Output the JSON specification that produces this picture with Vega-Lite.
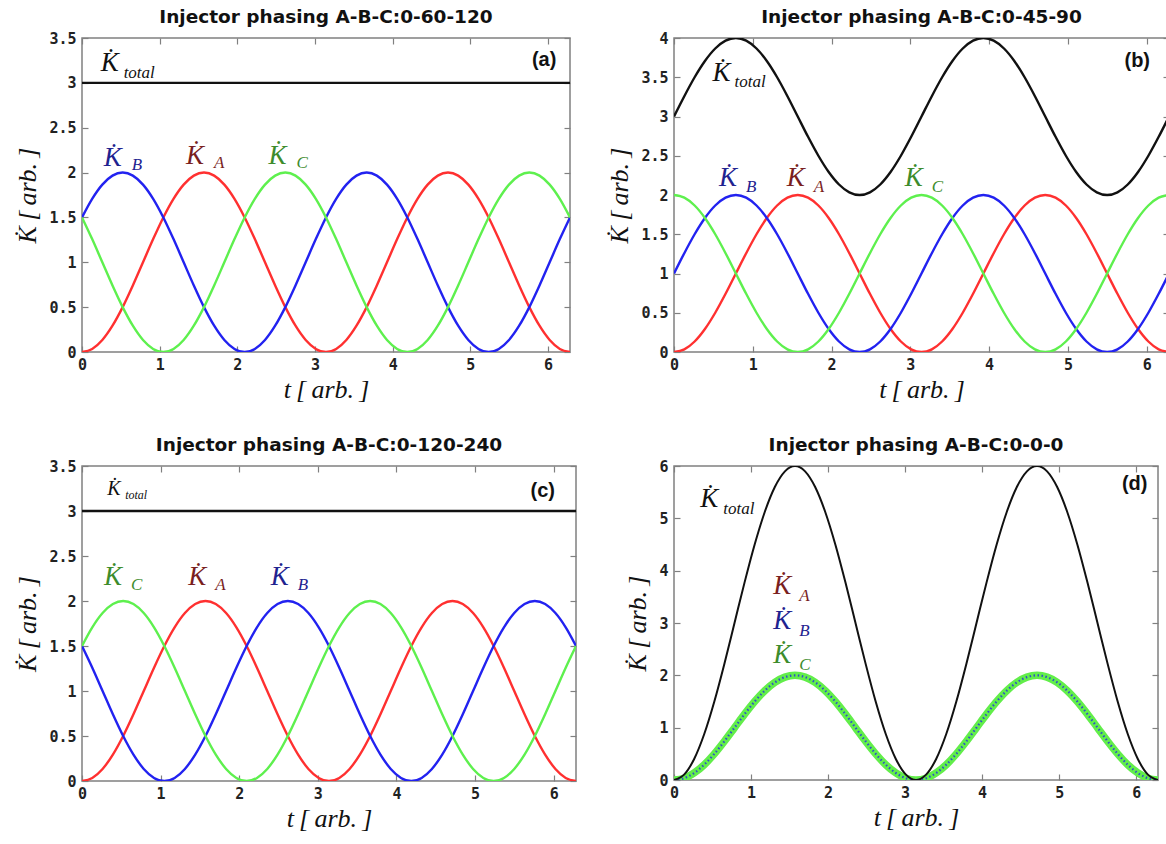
{
  "$schema": "https://vega.github.io/schema/vega-lite/v6.json",
  "padding": {"left": 14, "top": 6, "right": 0, "bottom": 0},
  "background": "white",
  "datasets": {
    "a": [
      {"t":0,"A":0,"B":1.5,"C":1.5,"total":3},
      {"t":0.1309,"A":0.0341,"B":1.7071,"C":1.2588,"total":3},
      {"t":0.2618,"A":0.134,"B":1.866,"C":1,"total":3},
      {"t":0.3927,"A":0.2929,"B":1.9659,"C":0.7412,"total":3},
      {"t":0.5236,"A":0.5,"B":2,"C":0.5,"total":3},
      {"t":0.6545,"A":0.7412,"B":1.9659,"C":0.2929,"total":3},
      {"t":0.7854,"A":1,"B":1.866,"C":0.134,"total":3},
      {"t":0.9163,"A":1.2588,"B":1.7071,"C":0.0341,"total":3},
      {"t":1.0472,"A":1.5,"B":1.5,"C":0,"total":3},
      {"t":1.1781,"A":1.7071,"B":1.2588,"C":0.0341,"total":3},
      {"t":1.309,"A":1.866,"B":1,"C":0.134,"total":3},
      {"t":1.4399,"A":1.9659,"B":0.7412,"C":0.2929,"total":3},
      {"t":1.5708,"A":2,"B":0.5,"C":0.5,"total":3},
      {"t":1.7017,"A":1.9659,"B":0.2929,"C":0.7412,"total":3},
      {"t":1.8326,"A":1.866,"B":0.134,"C":1,"total":3},
      {"t":1.9635,"A":1.7071,"B":0.0341,"C":1.2588,"total":3},
      {"t":2.0944,"A":1.5,"B":0,"C":1.5,"total":3},
      {"t":2.2253,"A":1.2588,"B":0.0341,"C":1.7071,"total":3},
      {"t":2.3562,"A":1,"B":0.134,"C":1.866,"total":3},
      {"t":2.4871,"A":0.7412,"B":0.2929,"C":1.9659,"total":3},
      {"t":2.618,"A":0.5,"B":0.5,"C":2,"total":3},
      {"t":2.7489,"A":0.2929,"B":0.7412,"C":1.9659,"total":3},
      {"t":2.8798,"A":0.134,"B":1,"C":1.866,"total":3},
      {"t":3.0107,"A":0.0341,"B":1.2588,"C":1.7071,"total":3},
      {"t":3.1416,"A":0,"B":1.5,"C":1.5,"total":3},
      {"t":3.2725,"A":0.0341,"B":1.7071,"C":1.2588,"total":3},
      {"t":3.4034,"A":0.134,"B":1.866,"C":1,"total":3},
      {"t":3.5343,"A":0.2929,"B":1.9659,"C":0.7412,"total":3},
      {"t":3.6652,"A":0.5,"B":2,"C":0.5,"total":3},
      {"t":3.7961,"A":0.7412,"B":1.9659,"C":0.2929,"total":3},
      {"t":3.927,"A":1,"B":1.866,"C":0.134,"total":3},
      {"t":4.0579,"A":1.2588,"B":1.7071,"C":0.0341,"total":3},
      {"t":4.1888,"A":1.5,"B":1.5,"C":0,"total":3},
      {"t":4.3197,"A":1.7071,"B":1.2588,"C":0.0341,"total":3},
      {"t":4.4506,"A":1.866,"B":1,"C":0.134,"total":3},
      {"t":4.5815,"A":1.9659,"B":0.7412,"C":0.2929,"total":3},
      {"t":4.7124,"A":2,"B":0.5,"C":0.5,"total":3},
      {"t":4.8433,"A":1.9659,"B":0.2929,"C":0.7412,"total":3},
      {"t":4.9742,"A":1.866,"B":0.134,"C":1,"total":3},
      {"t":5.1051,"A":1.7071,"B":0.0341,"C":1.2588,"total":3},
      {"t":5.236,"A":1.5,"B":0,"C":1.5,"total":3},
      {"t":5.3669,"A":1.2588,"B":0.0341,"C":1.7071,"total":3},
      {"t":5.4978,"A":1,"B":0.134,"C":1.866,"total":3},
      {"t":5.6287,"A":0.7412,"B":0.2929,"C":1.9659,"total":3},
      {"t":5.7596,"A":0.5,"B":0.5,"C":2,"total":3},
      {"t":5.8905,"A":0.2929,"B":0.7412,"C":1.9659,"total":3},
      {"t":6.0214,"A":0.134,"B":1,"C":1.866,"total":3},
      {"t":6.1523,"A":0.0341,"B":1.2588,"C":1.7071,"total":3},
      {"t":6.2832,"A":0,"B":1.5,"C":1.5,"total":3}
    ],
    "b": [
      {"t":0,"A":0,"B":1,"C":2,"total":3},
      {"t":0.1309,"A":0.0341,"B":1.2588,"C":1.9659,"total":3.2588},
      {"t":0.2618,"A":0.134,"B":1.5,"C":1.866,"total":3.5},
      {"t":0.3927,"A":0.2929,"B":1.7071,"C":1.7071,"total":3.7071},
      {"t":0.5236,"A":0.5,"B":1.866,"C":1.5,"total":3.866},
      {"t":0.6545,"A":0.7412,"B":1.9659,"C":1.2588,"total":3.9659},
      {"t":0.7854,"A":1,"B":2,"C":1,"total":4},
      {"t":0.9163,"A":1.2588,"B":1.9659,"C":0.7412,"total":3.9659},
      {"t":1.0472,"A":1.5,"B":1.866,"C":0.5,"total":3.866},
      {"t":1.1781,"A":1.7071,"B":1.7071,"C":0.2929,"total":3.7071},
      {"t":1.309,"A":1.866,"B":1.5,"C":0.134,"total":3.5},
      {"t":1.4399,"A":1.9659,"B":1.2588,"C":0.0341,"total":3.2588},
      {"t":1.5708,"A":2,"B":1,"C":0,"total":3},
      {"t":1.7017,"A":1.9659,"B":0.7412,"C":0.0341,"total":2.7412},
      {"t":1.8326,"A":1.866,"B":0.5,"C":0.134,"total":2.5},
      {"t":1.9635,"A":1.7071,"B":0.2929,"C":0.2929,"total":2.2929},
      {"t":2.0944,"A":1.5,"B":0.134,"C":0.5,"total":2.134},
      {"t":2.2253,"A":1.2588,"B":0.0341,"C":0.7412,"total":2.0341},
      {"t":2.3562,"A":1,"B":0,"C":1,"total":2},
      {"t":2.4871,"A":0.7412,"B":0.0341,"C":1.2588,"total":2.0341},
      {"t":2.618,"A":0.5,"B":0.134,"C":1.5,"total":2.134},
      {"t":2.7489,"A":0.2929,"B":0.2929,"C":1.7071,"total":2.2929},
      {"t":2.8798,"A":0.134,"B":0.5,"C":1.866,"total":2.5},
      {"t":3.0107,"A":0.0341,"B":0.7412,"C":1.9659,"total":2.7412},
      {"t":3.1416,"A":0,"B":1,"C":2,"total":3},
      {"t":3.2725,"A":0.0341,"B":1.2588,"C":1.9659,"total":3.2588},
      {"t":3.4034,"A":0.134,"B":1.5,"C":1.866,"total":3.5},
      {"t":3.5343,"A":0.2929,"B":1.7071,"C":1.7071,"total":3.7071},
      {"t":3.6652,"A":0.5,"B":1.866,"C":1.5,"total":3.866},
      {"t":3.7961,"A":0.7412,"B":1.9659,"C":1.2588,"total":3.9659},
      {"t":3.927,"A":1,"B":2,"C":1,"total":4},
      {"t":4.0579,"A":1.2588,"B":1.9659,"C":0.7412,"total":3.9659},
      {"t":4.1888,"A":1.5,"B":1.866,"C":0.5,"total":3.866},
      {"t":4.3197,"A":1.7071,"B":1.7071,"C":0.2929,"total":3.7071},
      {"t":4.4506,"A":1.866,"B":1.5,"C":0.134,"total":3.5},
      {"t":4.5815,"A":1.9659,"B":1.2588,"C":0.0341,"total":3.2588},
      {"t":4.7124,"A":2,"B":1,"C":0,"total":3},
      {"t":4.8433,"A":1.9659,"B":0.7412,"C":0.0341,"total":2.7412},
      {"t":4.9742,"A":1.866,"B":0.5,"C":0.134,"total":2.5},
      {"t":5.1051,"A":1.7071,"B":0.2929,"C":0.2929,"total":2.2929},
      {"t":5.236,"A":1.5,"B":0.134,"C":0.5,"total":2.134},
      {"t":5.3669,"A":1.2588,"B":0.0341,"C":0.7412,"total":2.0341},
      {"t":5.4978,"A":1,"B":0,"C":1,"total":2},
      {"t":5.6287,"A":0.7412,"B":0.0341,"C":1.2588,"total":2.0341},
      {"t":5.7596,"A":0.5,"B":0.134,"C":1.5,"total":2.134},
      {"t":5.8905,"A":0.2929,"B":0.2929,"C":1.7071,"total":2.2929},
      {"t":6.0214,"A":0.134,"B":0.5,"C":1.866,"total":2.5},
      {"t":6.1523,"A":0.0341,"B":0.7412,"C":1.9659,"total":2.7412},
      {"t":6.2832,"A":0,"B":1,"C":2,"total":3}
    ],
    "c": [
      {"t":0,"A":0,"C":1.5,"B":1.5,"total":3},
      {"t":0.1309,"A":0.0341,"C":1.7071,"B":1.2588,"total":3},
      {"t":0.2618,"A":0.134,"C":1.866,"B":1,"total":3},
      {"t":0.3927,"A":0.2929,"C":1.9659,"B":0.7412,"total":3},
      {"t":0.5236,"A":0.5,"C":2,"B":0.5,"total":3},
      {"t":0.6545,"A":0.7412,"C":1.9659,"B":0.2929,"total":3},
      {"t":0.7854,"A":1,"C":1.866,"B":0.134,"total":3},
      {"t":0.9163,"A":1.2588,"C":1.7071,"B":0.0341,"total":3},
      {"t":1.0472,"A":1.5,"C":1.5,"B":0,"total":3},
      {"t":1.1781,"A":1.7071,"C":1.2588,"B":0.0341,"total":3},
      {"t":1.309,"A":1.866,"C":1,"B":0.134,"total":3},
      {"t":1.4399,"A":1.9659,"C":0.7412,"B":0.2929,"total":3},
      {"t":1.5708,"A":2,"C":0.5,"B":0.5,"total":3},
      {"t":1.7017,"A":1.9659,"C":0.2929,"B":0.7412,"total":3},
      {"t":1.8326,"A":1.866,"C":0.134,"B":1,"total":3},
      {"t":1.9635,"A":1.7071,"C":0.0341,"B":1.2588,"total":3},
      {"t":2.0944,"A":1.5,"C":0,"B":1.5,"total":3},
      {"t":2.2253,"A":1.2588,"C":0.0341,"B":1.7071,"total":3},
      {"t":2.3562,"A":1,"C":0.134,"B":1.866,"total":3},
      {"t":2.4871,"A":0.7412,"C":0.2929,"B":1.9659,"total":3},
      {"t":2.618,"A":0.5,"C":0.5,"B":2,"total":3},
      {"t":2.7489,"A":0.2929,"C":0.7412,"B":1.9659,"total":3},
      {"t":2.8798,"A":0.134,"C":1,"B":1.866,"total":3},
      {"t":3.0107,"A":0.0341,"C":1.2588,"B":1.7071,"total":3},
      {"t":3.1416,"A":0,"C":1.5,"B":1.5,"total":3},
      {"t":3.2725,"A":0.0341,"C":1.7071,"B":1.2588,"total":3},
      {"t":3.4034,"A":0.134,"C":1.866,"B":1,"total":3},
      {"t":3.5343,"A":0.2929,"C":1.9659,"B":0.7412,"total":3},
      {"t":3.6652,"A":0.5,"C":2,"B":0.5,"total":3},
      {"t":3.7961,"A":0.7412,"C":1.9659,"B":0.2929,"total":3},
      {"t":3.927,"A":1,"C":1.866,"B":0.134,"total":3},
      {"t":4.0579,"A":1.2588,"C":1.7071,"B":0.0341,"total":3},
      {"t":4.1888,"A":1.5,"C":1.5,"B":0,"total":3},
      {"t":4.3197,"A":1.7071,"C":1.2588,"B":0.0341,"total":3},
      {"t":4.4506,"A":1.866,"C":1,"B":0.134,"total":3},
      {"t":4.5815,"A":1.9659,"C":0.7412,"B":0.2929,"total":3},
      {"t":4.7124,"A":2,"C":0.5,"B":0.5,"total":3},
      {"t":4.8433,"A":1.9659,"C":0.2929,"B":0.7412,"total":3},
      {"t":4.9742,"A":1.866,"C":0.134,"B":1,"total":3},
      {"t":5.1051,"A":1.7071,"C":0.0341,"B":1.2588,"total":3},
      {"t":5.236,"A":1.5,"C":0,"B":1.5,"total":3},
      {"t":5.3669,"A":1.2588,"C":0.0341,"B":1.7071,"total":3},
      {"t":5.4978,"A":1,"C":0.134,"B":1.866,"total":3},
      {"t":5.6287,"A":0.7412,"C":0.2929,"B":1.9659,"total":3},
      {"t":5.7596,"A":0.5,"C":0.5,"B":2,"total":3},
      {"t":5.8905,"A":0.2929,"C":0.7412,"B":1.9659,"total":3},
      {"t":6.0214,"A":0.134,"C":1,"B":1.866,"total":3},
      {"t":6.1523,"A":0.0341,"C":1.2588,"B":1.7071,"total":3},
      {"t":6.2832,"A":0,"C":1.5,"B":1.5,"total":3}
    ],
    "d": [
      {"t":0,"A":0,"B":0,"C":0,"total":0},
      {"t":0.1309,"A":0.0341,"B":0.0341,"C":0.0341,"total":0.1023},
      {"t":0.2618,"A":0.134,"B":0.134,"C":0.134,"total":0.402},
      {"t":0.3927,"A":0.2929,"B":0.2929,"C":0.2929,"total":0.8787},
      {"t":0.5236,"A":0.5,"B":0.5,"C":0.5,"total":1.5},
      {"t":0.6545,"A":0.7412,"B":0.7412,"C":0.7412,"total":2.2236},
      {"t":0.7854,"A":1,"B":1,"C":1,"total":3},
      {"t":0.9163,"A":1.2588,"B":1.2588,"C":1.2588,"total":3.7764},
      {"t":1.0472,"A":1.5,"B":1.5,"C":1.5,"total":4.5},
      {"t":1.1781,"A":1.7071,"B":1.7071,"C":1.7071,"total":5.1213},
      {"t":1.309,"A":1.866,"B":1.866,"C":1.866,"total":5.598},
      {"t":1.4399,"A":1.9659,"B":1.9659,"C":1.9659,"total":5.8977},
      {"t":1.5708,"A":2,"B":2,"C":2,"total":6},
      {"t":1.7017,"A":1.9659,"B":1.9659,"C":1.9659,"total":5.8977},
      {"t":1.8326,"A":1.866,"B":1.866,"C":1.866,"total":5.598},
      {"t":1.9635,"A":1.7071,"B":1.7071,"C":1.7071,"total":5.1213},
      {"t":2.0944,"A":1.5,"B":1.5,"C":1.5,"total":4.5},
      {"t":2.2253,"A":1.2588,"B":1.2588,"C":1.2588,"total":3.7764},
      {"t":2.3562,"A":1,"B":1,"C":1,"total":3},
      {"t":2.4871,"A":0.7412,"B":0.7412,"C":0.7412,"total":2.2236},
      {"t":2.618,"A":0.5,"B":0.5,"C":0.5,"total":1.5},
      {"t":2.7489,"A":0.2929,"B":0.2929,"C":0.2929,"total":0.8787},
      {"t":2.8798,"A":0.134,"B":0.134,"C":0.134,"total":0.402},
      {"t":3.0107,"A":0.0341,"B":0.0341,"C":0.0341,"total":0.1023},
      {"t":3.1416,"A":0,"B":0,"C":0,"total":0},
      {"t":3.2725,"A":0.0341,"B":0.0341,"C":0.0341,"total":0.1023},
      {"t":3.4034,"A":0.134,"B":0.134,"C":0.134,"total":0.402},
      {"t":3.5343,"A":0.2929,"B":0.2929,"C":0.2929,"total":0.8787},
      {"t":3.6652,"A":0.5,"B":0.5,"C":0.5,"total":1.5},
      {"t":3.7961,"A":0.7412,"B":0.7412,"C":0.7412,"total":2.2236},
      {"t":3.927,"A":1,"B":1,"C":1,"total":3},
      {"t":4.0579,"A":1.2588,"B":1.2588,"C":1.2588,"total":3.7764},
      {"t":4.1888,"A":1.5,"B":1.5,"C":1.5,"total":4.5},
      {"t":4.3197,"A":1.7071,"B":1.7071,"C":1.7071,"total":5.1213},
      {"t":4.4506,"A":1.866,"B":1.866,"C":1.866,"total":5.598},
      {"t":4.5815,"A":1.9659,"B":1.9659,"C":1.9659,"total":5.8977},
      {"t":4.7124,"A":2,"B":2,"C":2,"total":6},
      {"t":4.8433,"A":1.9659,"B":1.9659,"C":1.9659,"total":5.8977},
      {"t":4.9742,"A":1.866,"B":1.866,"C":1.866,"total":5.598},
      {"t":5.1051,"A":1.7071,"B":1.7071,"C":1.7071,"total":5.1213},
      {"t":5.236,"A":1.5,"B":1.5,"C":1.5,"total":4.5},
      {"t":5.3669,"A":1.2588,"B":1.2588,"C":1.2588,"total":3.7764},
      {"t":5.4978,"A":1,"B":1,"C":1,"total":3},
      {"t":5.6287,"A":0.7412,"B":0.7412,"C":0.7412,"total":2.2236},
      {"t":5.7596,"A":0.5,"B":0.5,"C":0.5,"total":1.5},
      {"t":5.8905,"A":0.2929,"B":0.2929,"C":0.2929,"total":0.8787},
      {"t":6.0214,"A":0.134,"B":0.134,"C":0.134,"total":0.402},
      {"t":6.1523,"A":0.0341,"B":0.0341,"C":0.0341,"total":0.1023},
      {"t":6.2832,"A":0,"B":0,"C":0,"total":0}
    ],
    "labels": [
      {"panel":"a","series":"total","t":0.24,"y":3.13,"sub":"total"},
      {"panel":"a","series":"B","t":0.28,"y":2.07,"sub":"B"},
      {"panel":"a","series":"A","t":1.34,"y":2.1,"sub":"A"},
      {"panel":"a","series":"C","t":2.4,"y":2.1,"sub":"C"},
      {"panel":"b","series":"total","t":0.49,"y":3.45,"sub":"total"},
      {"panel":"b","series":"B","t":0.57,"y":2.11,"sub":"B"},
      {"panel":"b","series":"A","t":1.43,"y":2.11,"sub":"A"},
      {"panel":"b","series":"C","t":2.93,"y":2.11,"sub":"C"},
      {"panel":"c","series":"total","t":0.32,"y":3.18,"sub":"total"},
      {"panel":"c","series":"C","t":0.28,"y":2.18,"sub":"C"},
      {"panel":"c","series":"A","t":1.35,"y":2.18,"sub":"A"},
      {"panel":"c","series":"B","t":2.4,"y":2.18,"sub":"B"},
      {"panel":"d","series":"total","t":0.34,"y":5.22,"sub":"total"},
      {"panel":"d","series":"A","t":1.29,"y":3.56,"sub":"A"},
      {"panel":"d","series":"B","t":1.29,"y":2.89,"sub":"B"},
      {"panel":"d","series":"C","t":1.29,"y":2.24,"sub":"C"}
    ],
    "tags": [
      {"panel":"a","tag":"(a)","t":5.95,"y":3.19},
      {"panel":"b","tag":"(b)","t":5.88,"y":3.63},
      {"panel":"c","tag":"(c)","t":5.86,"y":3.16},
      {"panel":"d","tag":"(d)","t":5.98,"y":5.54}
    ]
  },
  "columns": 2,
  "bounds": "flush",
  "align": "none",
  "spacing": {"row": 114, "column": 98},
  "concat": [
    {
      "title": "Injector phasing A-B-C:0-60-120",
      "width": 488, "height": 314,
      "resolve": {"axis": {"x": "independent", "y": "independent"}},
      "layer": [
        {
          "data": {"name": "a"},
          "transform": [{"fold": ["A","B","C","total"], "as": ["series","K"]}],
          "mark": {"type": "line", "strokeWidth": 2.4, "interpolate": "monotone", "clip": true},
          "encoding": {
            "x": {"field": "t", "type": "quantitative", "scale": {"domain": [0, 6.2832], "nice": false}, "axis": {"values": [0,1,2,3,4,5,6], "title": "t\u2009[\u2009arb.\u2009]"}},
            "y": {"field": "K", "type": "quantitative", "scale": {"domain": [0, 3.5], "nice": false}, "axis": {"values": [0,0.5,1,1.5,2,2.5,3,3.5], "format": "~g", "title": "K\u0307\u2009[\u2009arb.\u2009]"}},
            "stroke": {"field": "series", "type": "nominal", "scale": {"domain": ["A","B","C","total"], "range": ["#ff3030","#2222f0","#5ef04e","#111111"]}, "legend": null}
          }
        },
        {
          "data": {"name": "labels"},
          "transform": [{"filter": "datum.panel === 'a'"}],
          "mark": {"type": "text", "align": "left", "baseline": "alphabetic", "fontSize": 27},
          "encoding": {
            "x": {"field": "t", "type": "quantitative", "scale": {"domain": [0, 6.2832], "nice": false}, "axis": {"orient": "top", "values": [0,1,2,3,4,5,6], "labels": false, "title": null}},
            "y": {"field": "y", "type": "quantitative", "scale": {"domain": [0, 3.5], "nice": false}, "axis": {"orient": "right", "values": [0,0.5,1,1.5,2,2.5,3,3.5], "labels": false, "title": null}},
            "text": {"value": "K\u0307"},
            "fill": {"field": "series", "type": "nominal", "scale": {"domain": ["A","B","C","total"], "range": ["#7a1f1f","#1f2390","#3d8c2c","#111111"]}, "legend": null}
          }
        },
        {
          "data": {"name": "labels"},
          "transform": [{"filter": "datum.panel === 'a' && datum.series === 'total'"}],
          "mark": {"type": "text", "align": "left", "baseline": "alphabetic", "fontSize": 17, "dx": 23, "dy": 7},
          "encoding": {
            "x": {"field": "t", "type": "quantitative", "axis": null},
            "y": {"field": "y", "type": "quantitative", "axis": null},
            "text": {"field": "sub"},
            "fill": {"field": "series", "type": "nominal", "legend": null}
          }
        },
        {
          "data": {"name": "labels"},
          "transform": [{"filter": "datum.panel === 'a' && datum.series !== 'total'"}],
          "mark": {"type": "text", "align": "left", "baseline": "alphabetic", "fontSize": 17, "dx": 28, "dy": 4},
          "encoding": {
            "x": {"field": "t", "type": "quantitative", "axis": null},
            "y": {"field": "y", "type": "quantitative", "axis": null},
            "text": {"field": "sub"},
            "fill": {"field": "series", "type": "nominal", "legend": null}
          }
        },
        {
          "data": {"name": "tags"},
          "transform": [{"filter": "datum.panel === 'a'"}],
          "mark": {"type": "text", "align": "center", "baseline": "alphabetic", "font": "Liberation Sans", "fontStyle": "normal", "fontWeight": "bold", "fontSize": 20, "color": "#111111"},
          "encoding": {
            "x": {"field": "t", "type": "quantitative", "axis": null},
            "y": {"field": "y", "type": "quantitative", "axis": null},
            "text": {"field": "tag"}
          }
        }
      ]
    },
    {
      "title": "Injector phasing A-B-C:0-45-90",
      "width": 495, "height": 314,
      "resolve": {"axis": {"x": "independent", "y": "independent"}},
      "layer": [
        {
          "data": {"name": "b"},
          "transform": [{"fold": ["A","B","C","total"], "as": ["series","K"]}],
          "mark": {"type": "line", "strokeWidth": 2.4, "interpolate": "monotone", "clip": true},
          "encoding": {
            "x": {"field": "t", "type": "quantitative", "scale": {"domain": [0, 6.2832], "nice": false}, "axis": {"values": [0,1,2,3,4,5,6], "title": "t\u2009[\u2009arb.\u2009]"}},
            "y": {"field": "K", "type": "quantitative", "scale": {"domain": [0, 4], "nice": false}, "axis": {"values": [0,0.5,1,1.5,2,2.5,3,3.5,4], "format": "~g", "title": "K\u0307\u2009[\u2009arb.\u2009]"}},
            "stroke": {"field": "series", "type": "nominal", "scale": {"domain": ["A","B","C","total"], "range": ["#ff3030","#2222f0","#5ef04e","#111111"]}, "legend": null}
          }
        },
        {
          "data": {"name": "labels"},
          "transform": [{"filter": "datum.panel === 'b'"}],
          "mark": {"type": "text", "align": "left", "baseline": "alphabetic", "fontSize": 27},
          "encoding": {
            "x": {"field": "t", "type": "quantitative", "scale": {"domain": [0, 6.2832], "nice": false}, "axis": {"orient": "top", "values": [0,1,2,3,4,5,6], "labels": false, "title": null}},
            "y": {"field": "y", "type": "quantitative", "scale": {"domain": [0, 4], "nice": false}, "axis": {"orient": "right", "values": [0,0.5,1,1.5,2,2.5,3,3.5,4], "labels": false, "title": null}},
            "text": {"value": "K\u0307"},
            "fill": {"field": "series", "type": "nominal", "scale": {"domain": ["A","B","C","total"], "range": ["#7a1f1f","#1f2390","#3d8c2c","#111111"]}, "legend": null}
          }
        },
        {
          "data": {"name": "labels"},
          "transform": [{"filter": "datum.panel === 'b' && datum.series === 'total'"}],
          "mark": {"type": "text", "align": "left", "baseline": "alphabetic", "fontSize": 17, "dx": 22, "dy": 6},
          "encoding": {
            "x": {"field": "t", "type": "quantitative", "axis": null},
            "y": {"field": "y", "type": "quantitative", "axis": null},
            "text": {"field": "sub"},
            "fill": {"field": "series", "type": "nominal", "legend": null}
          }
        },
        {
          "data": {"name": "labels"},
          "transform": [{"filter": "datum.panel === 'b' && datum.series !== 'total'"}],
          "mark": {"type": "text", "align": "left", "baseline": "alphabetic", "fontSize": 17, "dx": 27, "dy": 6},
          "encoding": {
            "x": {"field": "t", "type": "quantitative", "axis": null},
            "y": {"field": "y", "type": "quantitative", "axis": null},
            "text": {"field": "sub"},
            "fill": {"field": "series", "type": "nominal", "legend": null}
          }
        },
        {
          "data": {"name": "tags"},
          "transform": [{"filter": "datum.panel === 'b'"}],
          "mark": {"type": "text", "align": "center", "baseline": "alphabetic", "font": "Liberation Sans", "fontStyle": "normal", "fontWeight": "bold", "fontSize": 20, "color": "#111111"},
          "encoding": {
            "x": {"field": "t", "type": "quantitative", "axis": null},
            "y": {"field": "y", "type": "quantitative", "axis": null},
            "text": {"field": "tag"}
          }
        }
      ]
    },
    {
      "title": "Injector phasing A-B-C:0-120-240",
      "width": 494, "height": 315,
      "resolve": {"axis": {"x": "independent", "y": "independent"}},
      "layer": [
        {
          "data": {"name": "c"},
          "transform": [{"fold": ["A","B","C","total"], "as": ["series","K"]}],
          "mark": {"type": "line", "strokeWidth": 2.4, "interpolate": "monotone", "clip": true},
          "encoding": {
            "x": {"field": "t", "type": "quantitative", "scale": {"domain": [0, 6.2832], "nice": false}, "axis": {"values": [0,1,2,3,4,5,6], "title": "t\u2009[\u2009arb.\u2009]"}},
            "y": {"field": "K", "type": "quantitative", "scale": {"domain": [0, 3.5], "nice": false}, "axis": {"values": [0,0.5,1,1.5,2,2.5,3,3.5], "format": "~g", "title": "K\u0307\u2009[\u2009arb.\u2009]"}},
            "stroke": {"field": "series", "type": "nominal", "scale": {"domain": ["A","B","C","total"], "range": ["#ff3030","#2222f0","#5ef04e","#111111"]}, "legend": null}
          }
        },
        {
          "data": {"name": "labels"},
          "transform": [{"filter": "datum.panel === 'c'"}],
          "mark": {"type": "text", "align": "left", "baseline": "alphabetic"},
          "encoding": {
            "x": {"field": "t", "type": "quantitative", "scale": {"domain": [0, 6.2832], "nice": false}, "axis": {"orient": "top", "values": [0,1,2,3,4,5,6], "labels": false, "title": null}},
            "y": {"field": "y", "type": "quantitative", "scale": {"domain": [0, 3.5], "nice": false}, "axis": {"orient": "right", "values": [0,0.5,1,1.5,2,2.5,3,3.5], "labels": false, "title": null}},
            "text": {"value": "K\u0307"},
            "size": {"condition": {"test": "datum.series === 'total'", "value": 20}, "value": 27},
            "fill": {"field": "series", "type": "nominal", "scale": {"domain": ["A","B","C","total"], "range": ["#7a1f1f","#1f2390","#3d8c2c","#111111"]}, "legend": null}
          }
        },
        {
          "data": {"name": "labels"},
          "transform": [{"filter": "datum.panel === 'c' && datum.series === 'total'"}],
          "mark": {"type": "text", "align": "left", "baseline": "alphabetic", "fontSize": 12, "dx": 18, "dy": 4},
          "encoding": {
            "x": {"field": "t", "type": "quantitative", "axis": null},
            "y": {"field": "y", "type": "quantitative", "axis": null},
            "text": {"field": "sub"},
            "fill": {"field": "series", "type": "nominal", "legend": null}
          }
        },
        {
          "data": {"name": "labels"},
          "transform": [{"filter": "datum.panel === 'c' && datum.series !== 'total'"}],
          "mark": {"type": "text", "align": "left", "baseline": "alphabetic", "fontSize": 17, "dx": 27, "dy": 5},
          "encoding": {
            "x": {"field": "t", "type": "quantitative", "axis": null},
            "y": {"field": "y", "type": "quantitative", "axis": null},
            "text": {"field": "sub"},
            "fill": {"field": "series", "type": "nominal", "legend": null}
          }
        },
        {
          "data": {"name": "tags"},
          "transform": [{"filter": "datum.panel === 'c'"}],
          "mark": {"type": "text", "align": "center", "baseline": "alphabetic", "font": "Liberation Sans", "fontStyle": "normal", "fontWeight": "bold", "fontSize": 20, "color": "#111111"},
          "encoding": {
            "x": {"field": "t", "type": "quantitative", "axis": null},
            "y": {"field": "y", "type": "quantitative", "axis": null},
            "text": {"field": "tag"}
          }
        }
      ]
    },
    {
      "title": "Injector phasing A-B-C:0-0-0",
      "width": 484, "height": 314,
      "resolve": {"axis": {"x": "independent", "y": "independent"}},
      "layer": [
        {
          "data": {"name": "d"},
          "mark": {"type": "line", "strokeWidth": 2, "interpolate": "monotone", "clip": true, "color": "#ff3030"},
          "encoding": {
            "x": {"field": "t", "type": "quantitative", "scale": {"domain": [0, 6.2832], "nice": false}, "axis": {"values": [0,1,2,3,4,5,6], "title": "t\u2009[\u2009arb.\u2009]"}},
            "y": {"field": "A", "type": "quantitative", "scale": {"domain": [0, 6], "nice": false}, "axis": {"values": [0,1,2,3,4,5,6], "format": "~g", "title": "K\u0307\u2009[\u2009arb.\u2009]"}}
          }
        },
        {
          "data": {"name": "d"},
          "mark": {"type": "line", "strokeWidth": 7.5, "interpolate": "monotone", "clip": true, "color": "#62ee4a"},
          "encoding": {
            "x": {"field": "t", "type": "quantitative", "axis": null},
            "y": {"field": "C", "type": "quantitative", "axis": null}
          }
        },
        {
          "data": {"name": "d"},
          "mark": {"type": "line", "strokeWidth": 2.2, "strokeDash": [1.5, 2.5], "interpolate": "monotone", "clip": true, "color": "#2f4fc8"},
          "encoding": {
            "x": {"field": "t", "type": "quantitative", "axis": null},
            "y": {"field": "B", "type": "quantitative", "axis": null}
          }
        },
        {
          "data": {"name": "d"},
          "mark": {"type": "line", "strokeWidth": 2, "interpolate": "monotone", "clip": true, "color": "#111111"},
          "encoding": {
            "x": {"field": "t", "type": "quantitative", "axis": null},
            "y": {"field": "total", "type": "quantitative", "axis": null}
          }
        },
        {
          "data": {"name": "labels"},
          "transform": [{"filter": "datum.panel === 'd'"}],
          "mark": {"type": "text", "align": "left", "baseline": "alphabetic", "fontSize": 27},
          "encoding": {
            "x": {"field": "t", "type": "quantitative", "scale": {"domain": [0, 6.2832], "nice": false}, "axis": {"orient": "top", "values": [0,1,2,3,4,5,6], "labels": false, "title": null}},
            "y": {"field": "y", "type": "quantitative", "scale": {"domain": [0, 6], "nice": false}, "axis": {"orient": "right", "values": [0,1,2,3,4,5,6], "labels": false, "title": null}},
            "text": {"value": "K\u0307"},
            "fill": {"field": "series", "type": "nominal", "scale": {"domain": ["A","B","C","total"], "range": ["#7a1f1f","#1f2390","#3d8c2c","#111111"]}, "legend": null}
          }
        },
        {
          "data": {"name": "labels"},
          "transform": [{"filter": "datum.panel === 'd' && datum.series === 'total'"}],
          "mark": {"type": "text", "align": "left", "baseline": "alphabetic", "fontSize": 17, "dx": 23, "dy": 7},
          "encoding": {
            "x": {"field": "t", "type": "quantitative", "axis": null},
            "y": {"field": "y", "type": "quantitative", "axis": null},
            "text": {"field": "sub"},
            "fill": {"field": "series", "type": "nominal", "legend": null}
          }
        },
        {
          "data": {"name": "labels"},
          "transform": [{"filter": "datum.panel === 'd' && datum.series !== 'total'"}],
          "mark": {"type": "text", "align": "left", "baseline": "alphabetic", "fontSize": 17, "dx": 26, "dy": 7},
          "encoding": {
            "x": {"field": "t", "type": "quantitative", "axis": null},
            "y": {"field": "y", "type": "quantitative", "axis": null},
            "text": {"field": "sub"},
            "fill": {"field": "series", "type": "nominal", "legend": null}
          }
        },
        {
          "data": {"name": "tags"},
          "transform": [{"filter": "datum.panel === 'd'"}],
          "mark": {"type": "text", "align": "center", "baseline": "alphabetic", "font": "Liberation Sans", "fontStyle": "normal", "fontWeight": "bold", "fontSize": 20, "color": "#111111"},
          "encoding": {
            "x": {"field": "t", "type": "quantitative", "axis": null},
            "y": {"field": "y", "type": "quantitative", "axis": null},
            "text": {"field": "tag"}
          }
        }
      ]
    }
  ],
  "config": {
    "view": {"stroke": "#808080", "strokeWidth": 1.5},
    "axis": {
      "domain": false,
      "grid": false,
      "tickColor": "#808080",
      "tickSize": -6,
      "tickWidth": 1.2,
      "labelFont": "DejaVu Sans Mono",
      "labelFontWeight": "bold",
      "labelFontSize": 15,
      "labelColor": "#222222",
      "labelFlush": false,
      "labelOverlap": false,
      "titleFont": "Liberation Serif",
      "titleFontStyle": "italic",
      "titleFontWeight": "normal",
      "titleFontSize": 26,
      "titleColor": "#111111"
    },
    "axisX": {"labelPadding": 11, "titlePadding": 4},
    "axisY": {"labelPadding": 12, "titlePadding": 8},
    "title": {"font": "DejaVu Sans", "fontSize": 18.5, "fontWeight": "bold", "color": "#111111", "offset": 5, "frame": "group"},
    "text": {"font": "Liberation Serif", "fontStyle": "italic"}
  }
}
